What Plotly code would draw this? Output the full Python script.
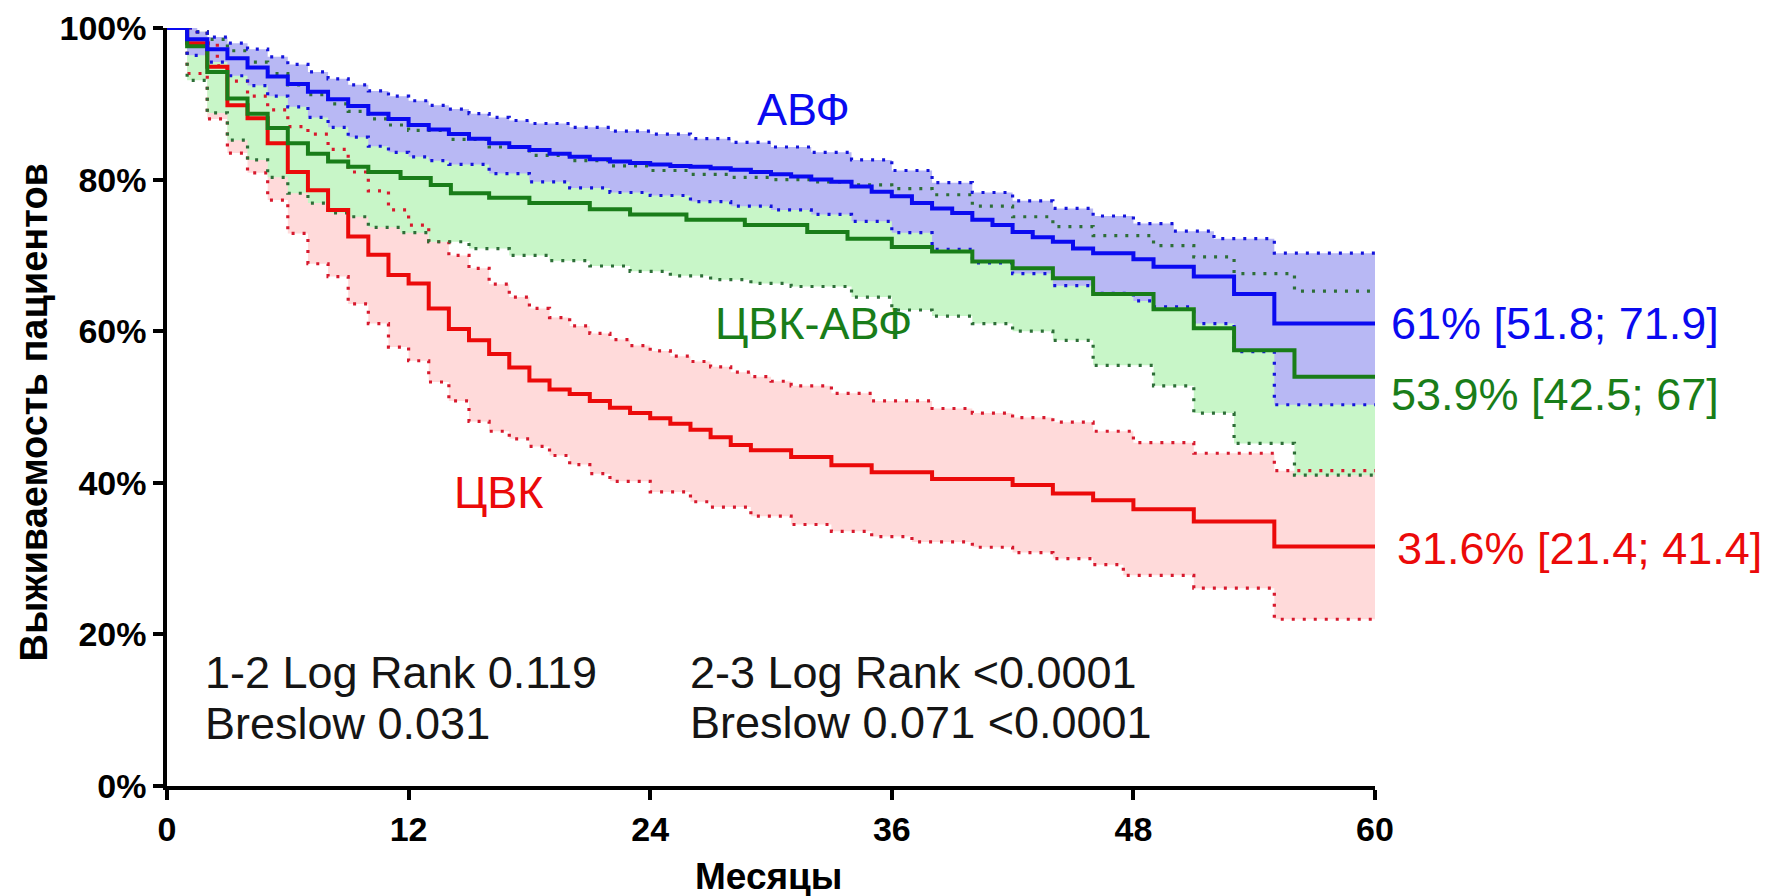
import plotly.graph_objects as go

# ---------------- data (months, survival %) ----------------
# АВФ (blue)
t_avf = [0,1,2,3,4,5,6,7,8,9,10,11,12,13,14,15,16,17,18,19,20,21,22,23,24,25,26,27,28,29,30,31,32,33,34,35,36,37,38,39,40,41,42,43,44,45,46,48,49,51,53,55,60]
s_avf = [100,98.5,97.2,96.0,94.8,93.6,92.6,91.6,90.6,89.7,88.7,88.0,87.2,86.6,86.0,85.4,84.8,84.3,83.9,83.4,83.0,82.7,82.4,82.2,82.0,81.8,81.7,81.5,81.3,81.0,80.7,80.4,80.0,79.7,79.1,78.4,77.8,76.9,76.2,75.6,74.7,74.0,73.1,72.4,71.8,70.9,70.3,69.5,68.5,67.2,64.9,61.0,61.0]
t_avf_lo = [0,1,2,3,4,5,6,7,8,9,10,11,12,13,14,16,18,20,22,24,26,28,30,32,34,36,38,40,42,44,46,48,49,51,53,55,60]
s_avf_lo = [100,96.4,95.5,93.7,92.4,91.0,89.6,88.2,86.9,85.6,84.4,83.6,83.0,82.5,82.0,80.8,79.7,78.9,78.3,77.9,77.1,76.5,76.0,75.4,74.5,73.0,70.8,69.0,67.6,66.0,65.0,64.0,63.2,61.0,57.3,50.3,50.3]
t_avf_hi = [0,1.5,2,3,4,5,6,7,8,9,10,11,12,13,14,15,16,17,18,20,22,24,26,28,30,32,34,36,38,40,42,44,46,48,50,52,55,60]
s_avf_hi = [100,99.5,98.8,98.0,97.2,96.2,95.2,94.2,93.3,92.5,91.7,91.0,90.4,89.8,89.3,88.7,88.2,87.8,87.4,86.9,86.4,86.0,85.4,84.9,84.3,83.6,82.6,81.2,79.6,78.3,77.2,76.2,75.2,74.2,73.2,72.2,70.3,70.3]

# ЦВК-АВФ (green)
t_cvk_avf = [0,1,2,3,4,5,6,7,8,9,10,11.6,13.1,14.1,16,18,21,23,25.8,28.7,31.8,33.8,36,38,40,42,44,46,49,51,53,56,60]
s_cvk_avf = [100,97.6,94.2,90.7,88.7,86.8,84.8,83.4,82.4,81.7,81.0,80.2,79.3,78.2,77.6,76.9,76.1,75.4,74.7,74.0,73.1,72.2,71.1,70.5,69.2,68.3,67.0,64.9,62.9,60.4,57.5,54.0,54.0]
t_cvk_avf_lo = [0,1,2,3,4,5,6,7,8,9,10,11.6,13,15,17,19,21,23,25,27,29,31,34,36,38,40,42,44,46,49,51,53,56,60]
s_cvk_avf_lo = [100,93.1,88.8,85.2,82.6,80.3,78.2,76.9,75.6,75.1,73.7,73.0,71.8,70.9,70.0,69.3,68.6,67.9,67.3,66.8,66.3,65.9,64.5,62.8,62.0,61.0,60.0,58.8,55.5,52.8,49.2,45.2,41.0,41.0]
t_cvk_avf_hi = [0,1,2,3,4,5,6,7,8,9,10,11,12,14,16,18,20,22,24,26,28,30,32,34,36,38,40,42,44,46,49,51,53,56,60]
s_cvk_avf_hi = [100,99.5,98.5,97.0,95.5,94.0,92.5,91.2,90.0,89.0,88.0,87.2,86.5,85.3,84.3,83.2,82.5,81.8,81.2,80.7,80.3,80.0,79.7,79.3,78.8,78.0,76.5,75.1,73.8,72.6,71.3,69.8,67.6,65.3,65.3]

# ЦВК (red)
t_cvk = [0,1,2,3,4,5,6,7,8,9,10,11,12,13,14,15,16,17,18,19,20,21,22,23,24,25,26,27,28,29,31,33,35,38,42,44,46,48,51,55,60]
s_cvk = [100,98.0,94.9,89.8,88.1,84.8,81.0,78.6,76.0,72.5,70.1,67.4,66.3,63.0,60.3,58.8,57.0,55.2,53.5,52.3,51.7,50.8,49.9,49.2,48.5,47.8,47.0,46.0,45.0,44.3,43.4,42.3,41.4,40.5,39.7,38.6,37.7,36.5,34.9,31.6,31.6]
t_cvk_lo = [0,1,2,3,4,5,6,7,8,9,10,11,12,13,14,15,16,17,18,19,20,21,22,24,26,27,29,31,33,35,37,40,42,44,46,47.5,51,55,60]
s_cvk_lo = [100,94.0,88.0,83.5,80.9,77.3,72.9,68.9,67.2,63.6,61.0,57.9,56.1,53.3,50.8,48.1,46.8,45.8,44.8,43.6,42.4,41.2,40.2,38.8,37.5,36.8,35.6,34.5,33.6,32.9,32.2,31.5,30.8,30.0,29.2,27.8,26.1,22.0,22.0]
t_cvk_hi = [0,1.5,2,2.5,3,4,5,6,7,8,9,10,11,12,13,14,15,16,17,18,19,20,21,22,23,24,25,26,27,28,29,30,31,33,35,38,40,42,44,46,48,51,55,60]
s_cvk_hi = [100,99.5,98.0,95.0,93.0,91.0,89.2,87.0,86.0,84.0,81.0,78.5,76.0,74.0,71.8,70.0,68.3,66.2,64.5,63.0,61.8,60.7,59.7,58.9,58.1,57.4,56.7,56.0,55.3,54.6,54.0,53.4,52.8,51.8,50.8,49.8,49.2,48.6,48.0,46.8,45.3,43.9,41.6,41.6]

x_ticks = [0, 12, 24, 36, 48, 60]
y_ticks = [0, 20, 40, 60, 80, 100]

x_title = "Месяцы"
y_title = "Выживаемость пациентов"
group_labels = ["АВФ", "ЦВК-АВФ", "ЦВК"]
end_labels = ["61% [51.8; 71.9]", "53.9% [42.5; 67]", "31.6% [21.4; 41.4]"]
stats_left = ["1-2 Log Rank 0.119", "Breslow 0.031"]
stats_right = ["2-3 Log Rank <0.0001", "Breslow 0.071 <0.0001"]

# ---------------- styles ----------------
BLUE = "rgb(10,10,240)"
GREEN = "rgb(25,125,25)"
RED = "rgb(235,10,10)"
BLUE_DOT = "rgb(20,20,220)"
GREEN_DOT = "rgb(45,110,55)"
RED_DOT = "rgb(215,25,45)"
BLUE_FILL = "rgb(184,184,244)"
GREEN_FILL = "rgb(200,246,200)"
RED_FILL = "rgb(255,218,218)"
DOT = "3px,8px"

groups = [
    (t_cvk, s_cvk, t_cvk_lo, s_cvk_lo, t_cvk_hi, s_cvk_hi, RED, RED_DOT, RED_FILL),
    (t_cvk_avf, s_cvk_avf, t_cvk_avf_lo, s_cvk_avf_lo, t_cvk_avf_hi, s_cvk_avf_hi, GREEN, GREEN_DOT, GREEN_FILL),
    (t_avf, s_avf, t_avf_lo, s_avf_lo, t_avf_hi, s_avf_hi, BLUE, BLUE_DOT, BLUE_FILL),
]

fig = go.Figure()

# confidence bands (fills)
for t, s, tl, sl, th, sh, lc, dc, fc in groups:
    fig.add_trace(go.Scatter(x=tl, y=sl, mode="lines", line=dict(width=0, shape="hv"),
                             hoverinfo="skip", showlegend=False))
    fig.add_trace(go.Scatter(x=th, y=sh, mode="lines", line=dict(width=0, shape="hv"),
                             fill="tonexty", fillcolor=fc, hoverinfo="skip", showlegend=False))

# dotted confidence limits
for t, s, tl, sl, th, sh, lc, dc, fc in groups:
    for xx, yy in ((tl, sl), (th, sh)):
        fig.add_trace(go.Scatter(x=xx, y=yy, mode="lines", cliponaxis=False,
                                 line=dict(color=dc, width=3.2, shape="hv", dash=DOT),
                                 showlegend=False))

# survival curves
for t, s, tl, sl, th, sh, lc, dc, fc in groups:
    fig.add_trace(go.Scatter(x=t, y=s, mode="lines", cliponaxis=False,
                             line=dict(color=lc, width=4, shape="hv"),
                             showlegend=False))

TXT = "Liberation Sans, Arial, sans-serif"
ann = []
# group labels
ann.append(dict(x=31.6, y=89.3, xref="x", yref="y", text=group_labels[0],
                font=dict(color=BLUE, size=45, family=TXT)))
ann.append(dict(x=32.1, y=61.0, xref="x", yref="y", text=group_labels[1],
                font=dict(color=GREEN, size=45, family=TXT)))
ann.append(dict(x=16.5, y=38.7, xref="x", yref="y", text=group_labels[2],
                font=dict(color=RED, size=45, family=TXT)))
# end labels (right of the plot area)
for lab, xp, yv, col in zip(end_labels, [1.0116, 1.0116, 1.0166], [61.0, 51.6, 31.3], [BLUE, GREEN, RED]):
    ann.append(dict(x=xp, y=yv, xref="paper", yref="y", text=lab, xanchor="left",
                    font=dict(color=col, size=45, family=TXT)))
# stats
for i, lab in enumerate(stats_left):
    ann.append(dict(x=1.8, y=[15.0, 8.2][i], xref="x", yref="y", text=lab, xanchor="left",
                    font=dict(color="#151515", size=45, family=TXT)))
for i, lab in enumerate(stats_right):
    ann.append(dict(x=25.9, y=[15.0, 8.4][i], xref="x", yref="y", text=lab, xanchor="left",
                    font=dict(color="#151515", size=45, family=TXT)))
# axis titles
ann.append(dict(x=0.498, y=-0.120, xref="paper", yref="paper", text="<b>" + x_title + "</b>",
                yanchor="middle", font=dict(color="black", size=37, family=TXT)))
ann.append(dict(x=-0.110, y=0.493, xref="paper", yref="paper", text="<b>" + y_title + "</b>",
                textangle=-90, yanchor="middle", font=dict(color="black", size=38, family=TXT)))
for a in ann:
    a["showarrow"] = False
    a.setdefault("xanchor", "center")

fig.update_layout(
    width=1768, height=896,
    margin=dict(l=167, r=393, t=28, b=110),
    paper_bgcolor="white", plot_bgcolor="white",
    annotations=ann,
    font=dict(family=TXT, color="black"),
)
fig.update_xaxes(range=[0, 60], tickvals=x_ticks, ticktext=[str(v) for v in x_ticks],
                 automargin=False,
                 showgrid=False, zeroline=False, showline=True, linecolor="black", linewidth=3.5,
                 ticks="outside", ticklen=10, tickwidth=3.5, tickcolor="black",
                 tickfont=dict(size=34, family="Liberation Sans, Arial", color="black", weight="bold"))
fig.update_yaxes(range=[0, 100], tickvals=y_ticks, ticktext=[f"{v}%" for v in y_ticks],
                 automargin=False,
                 showgrid=False, zeroline=False, showline=True, linecolor="black", linewidth=3.5,
                 ticks="outside", ticklen=10, tickwidth=3.5, tickcolor="black",
                 tickfont=dict(size=34, family="Liberation Sans, Arial", color="black", weight="bold"))

fig.write_html("out.html")
